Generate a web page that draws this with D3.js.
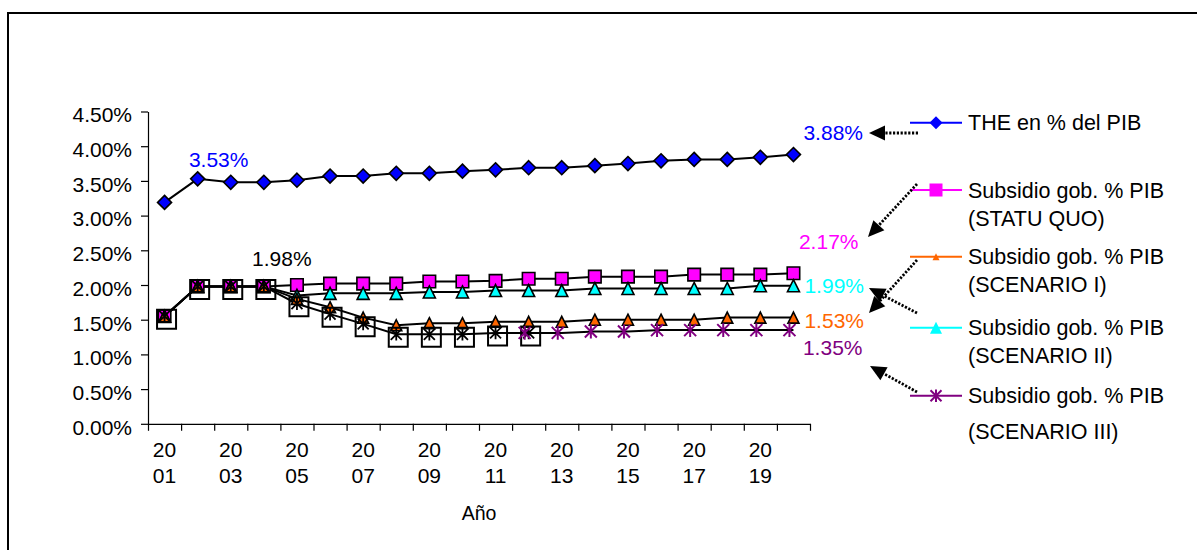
<!DOCTYPE html>
<html>
<head>
<meta charset="utf-8">
<script src="https://cdn.jsdelivr.net/npm/d3@7"></script>
<style>
  body { margin: 0; background: #fff; }
  text { font-family: "Liberation Sans", Arial, sans-serif; fill: #000; }
</style>
</head>
<body>
<svg id="chart" width="1197" height="550"></svg>
<script>
// ---- data (percent of GDP) ----
const years = [2001, 2002, 2003, 2004, 2005, 2006, 2007, 2008, 2009, 2010,
               2011, 2012, 2013, 2014, 2015, 2016, 2017, 2018, 2019, 2020];
const theGdp      = [3.19, 3.53, 3.48, 3.48, 3.51, 3.57, 3.57, 3.61, 3.61, 3.64,
                     3.66, 3.69, 3.69, 3.72, 3.75, 3.79, 3.81, 3.81, 3.84, 3.88];
const statuQuo    = [1.55, 1.98, 1.98, 1.98, 2.00, 2.02, 2.02, 2.02, 2.05, 2.05,
                     2.06, 2.09, 2.09, 2.12, 2.12, 2.12, 2.15, 2.15, 2.15, 2.17];
const scenarioI   = [1.55, 1.98, 1.98, 1.98, 1.80, 1.68, 1.53, 1.42, 1.45, 1.45,
                     1.47, 1.47, 1.47, 1.50, 1.50, 1.50, 1.50, 1.53, 1.53, 1.53];
const scenarioII  = [1.55, 1.98, 1.98, 1.98, 1.85, 1.88, 1.88, 1.88, 1.90, 1.90,
                     1.92, 1.92, 1.92, 1.95, 1.95, 1.95, 1.95, 1.95, 1.99, 1.99];
const scenarioIII = [1.55, 1.98, 1.98, 1.98, 1.73, 1.58, 1.44, 1.29, 1.29, 1.29,
                     1.31, 1.31, 1.31, 1.33, 1.33, 1.35, 1.35, 1.35, 1.35, 1.35];
// years whose Scenario III point is framed by a hollow box
const boxedYears = [2001, 2002, 2003, 2004, 2005, 2006, 2007, 2008, 2009, 2010, 2011, 2012];
const labeledYears = [2001, 2003, 2005, 2007, 2009, 2011, 2013, 2015, 2017, 2019];
const yTicks = [0, 0.5, 1, 1.5, 2, 2.5, 3, 3.5, 4, 4.5];
const legendLabels = [
  ["THE en % del PIB"],
  ["Subsidio gob. % PIB", "(STATU QUO)"],
  ["Subsidio gob. % PIB", "(SCENARIO I)"],
  ["Subsidio gob. % PIB", "(SCENARIO II)"],
  ["Subsidio gob. % PIB", "(SCENARIO III)"]
];
const xTitle = "Año";

// ---- layout ----
const svg = d3.select("#chart");
const W = 1197, H = 550;
const plot = { left: 148, right: 810, top: 111.5, bottom: 423.8 };
const colors = { the: "#0000FF", sq: "#FF00FF", s1: "#FF6600", s2: "#00FFFF", s3: "#800080" };
const fontTick = 21, fontLabel = 21, fontLegend = 21.5;

// outer frame
svg.append("rect").attr("x", 8).attr("y", 13).attr("width", W + 10).attr("height", H + 10)
  .attr("fill", "none").attr("stroke", "#000").attr("stroke-width", 2);

const x = d3.scaleBand().domain(years).range([plot.left, plot.right]);
const xEdge = d3.scaleLinear().domain([0, years.length]).range([plot.left, plot.right]);
const y = d3.scaleLinear().domain([0, 4.5]).range([plot.bottom, plot.top]);
const cx = yr => x(yr) + x.bandwidth() / 2;

// y axis
const yAxis = svg.append("g").attr("transform", `translate(${plot.left},0)`)
  .call(d3.axisLeft(y).tickValues(yTicks).tickFormat(d => d.toFixed(2) + "%")
        .tickSize(7).tickSizeOuter(0).tickPadding(9));
yAxis.selectAll("path,line").attr("stroke", "#000").attr("stroke-width", 1.2);
yAxis.selectAll("text").attr("font-size", fontTick).attr("dy", "0.35em").attr("y", 3)
  .style("font-family", '"Liberation Sans", Arial, sans-serif');

// x axis: ticks between categories
const xAxis = svg.append("g").attr("transform", `translate(0,${plot.bottom})`)
  .call(d3.axisBottom(xEdge).ticks(years.length).tickFormat("").tickSize(7).tickSizeOuter(0));
xAxis.selectAll("path,line").attr("stroke", "#000").attr("stroke-width", 1.2);

// x tick labels, year split in two rows
const xl = svg.append("g").selectAll("text").data(labeledYears).join("text")
  .attr("text-anchor", "middle").attr("font-size", fontTick);
xl.append("tspan").attr("x", d => cx(d)).attr("y", plot.bottom + 33).text(d => String(d).slice(0, 2));
xl.append("tspan").attr("x", d => cx(d)).attr("y", plot.bottom + 59).text(d => String(d).slice(2));

svg.append("text").attr("x", (plot.left + plot.right) / 2).attr("y", 520)
  .attr("text-anchor", "middle").attr("font-size", 19.5).text(xTitle);

// ---- marker shapes ----
const shape = {
  diamond: r => `M0,${-r}L${r},0L0,${r}L${-r},0Z`,
  square: s => `M${-s / 2},${-s / 2}h${s}v${s}h${-s}Z`,
  triangle: s => `M0,${-s / 2}L${s / 2},${s / 2}L${-s / 2},${s / 2}Z`,
  star: r => `M${-r},${-r}L${r},${r}M${-r},${r}L${r},${-r}M0,${-r * 1.15}L0,${r * 1.15}`
};

const series = [
  { key: "the", values: theGdp },
  { key: "sq", values: statuQuo },
  { key: "s2", values: scenarioII },
  { key: "s1", values: scenarioI },
  { key: "s3", values: scenarioIII }
];
const pts = vals => years.map((yr, i) => ({ yr, v: vals[i] }));

// connecting lines
const line = d3.line().x(d => cx(d.yr)).y(d => y(d.v));
svg.append("g").selectAll("path").data(series).join("path")
  .attr("d", s => line(pts(s.values)))
  .attr("fill", "none").attr("stroke", "#000").attr("stroke-width", 2);

function markers(vals, path, fill, stroke, sw, dx = 0, dy = 0, filter = () => true) {
  svg.append("g").selectAll("path").data(pts(vals).filter(filter)).join("path")
    .attr("transform", d => `translate(${cx(d.yr) + dx},${y(d.v) + dy})`)
    .attr("d", path).attr("fill", fill).attr("stroke", stroke).attr("stroke-width", sw);
}

markers(theGdp, shape.diamond(7), colors.the, "#000", 1.6);
markers(statuQuo, shape.square(12.5), colors.sq, "#000", 1.6);
markers(scenarioII, shape.triangle(12), colors.s2, "#000", 1.6);
markers(scenarioI, shape.triangle(11), colors.s1, "#000", 1.6);
// hollow boxes around the early Scenario III points
markers(scenarioIII, shape.square(19), "none", "#000", 2, 2, 3, d => boxedYears.includes(d.yr));
// Scenario III asterisks: black inside boxes, purple afterwards
markers(scenarioIII, shape.star(5.5), "none", "#000", 1.8, 0, 0, d => boxedYears.includes(d.yr));
markers(scenarioIII, shape.star(6), "none", colors.s3, 2, -4, 0, d => d.yr >= 2012);

// ---- value labels ----
const last = years.length - 1;
const valueLabels = [
  { yr: years[1], v: theGdp[1], color: colors.the, anchor: "middle", dx: 21, dy: -12 },
  { yr: years[3], v: statuQuo[3], color: "#000", anchor: "middle", dx: 18, dy: -20 },
  { yr: years[last], v: theGdp[last], color: colors.the, anchor: "start", dx: 10, dy: -14.5 },
  { yr: years[last], v: statuQuo[last], color: colors.sq, anchor: "start", dx: 5.5, dy: -24 },
  { yr: years[last], v: scenarioII[last], color: colors.s2, anchor: "start", dx: 11, dy: 7.5 },
  { yr: years[last], v: scenarioI[last], color: colors.s1, anchor: "start", dx: 11, dy: 10.5 },
  { yr: years[last], v: scenarioIII[last], color: colors.s3, anchor: "start", dx: 9.5, dy: 25 }
];
svg.append("g").selectAll("text").data(valueLabels).join("text")
  .attr("x", d => cx(d.yr) + d.dx).attr("y", d => y(d.v) + d.dy)
  .attr("text-anchor", d => d.anchor).attr("font-size", fontLabel)
  .style("fill", d => d.color).text(d => d.v.toFixed(2) + "%");

// ---- legend ----
const legend = [
  { key: "the", y: 122.7, path: shape.diamond(6.5), lead: 0 },
  { key: "sq", y: 190, path: shape.square(13), lead: 28 },
  { key: "s1", y: 256.7, path: shape.triangle(7), lead: 28 },
  { key: "s2", y: 327.7, path: shape.triangle(12), lead: 27.5 },
  { key: "s3", y: 395.7, path: shape.star(5.5), lead: 36 }
];
const lg = svg.append("g").selectAll("g").data(legend).join("g")
  .attr("transform", d => `translate(0,${d.y})`);
lg.append("line").attr("x1", 910).attr("x2", 962)
  .attr("stroke", d => colors[d.key]).attr("stroke-width", 2);
lg.append("path").attr("transform", "translate(936,0)").attr("d", d => d.path)
  .attr("fill", d => d.key === "s3" ? "none" : colors[d.key])
  .attr("stroke", d => d.key === "s3" ? colors.s3 : "none").attr("stroke-width", 2);
lg.each(function (d, i) {
  const t = d3.select(this).append("text").attr("font-size", fontLegend);
  legendLabels[i].forEach((txt, j) => {
    t.append("tspan").attr("x", 968).attr("y", j * d.lead).attr("dy", "0.36em").text(txt);
  });
});

// ---- dotted arrows from legend to the end values ----
const arrows = [
  { from: [918, 133], to: [869, 133] },
  { from: [917, 184], to: [868, 237] },
  { from: [917, 260], to: [869, 313] },
  { from: [917, 313], to: [869, 288] },
  { from: [917, 392], to: [870, 366] }
];
const ag = svg.append("g");
arrows.forEach(a => {
  const [x0, y0] = a.from, [x1, y1] = a.to;
  const len = Math.hypot(x1 - x0, y1 - y0), ux = (x1 - x0) / len, uy = (y1 - y0) / len;
  const hl = 16, hw = 7.5;
  const bx = x1 - ux * hl, by = y1 - uy * hl;
  ag.append("line").attr("x1", x0).attr("y1", y0).attr("x2", bx).attr("y2", by)
    .attr("stroke", "#000").attr("stroke-width", 2.8).attr("stroke-dasharray", "2.2 1.6");
  ag.append("path")
    .attr("d", `M${x1},${y1}L${bx - uy * hw},${by + ux * hw}L${bx + uy * hw},${by - ux * hw}Z`)
    .attr("fill", "#000");
});
</script>
</body>
</html>
